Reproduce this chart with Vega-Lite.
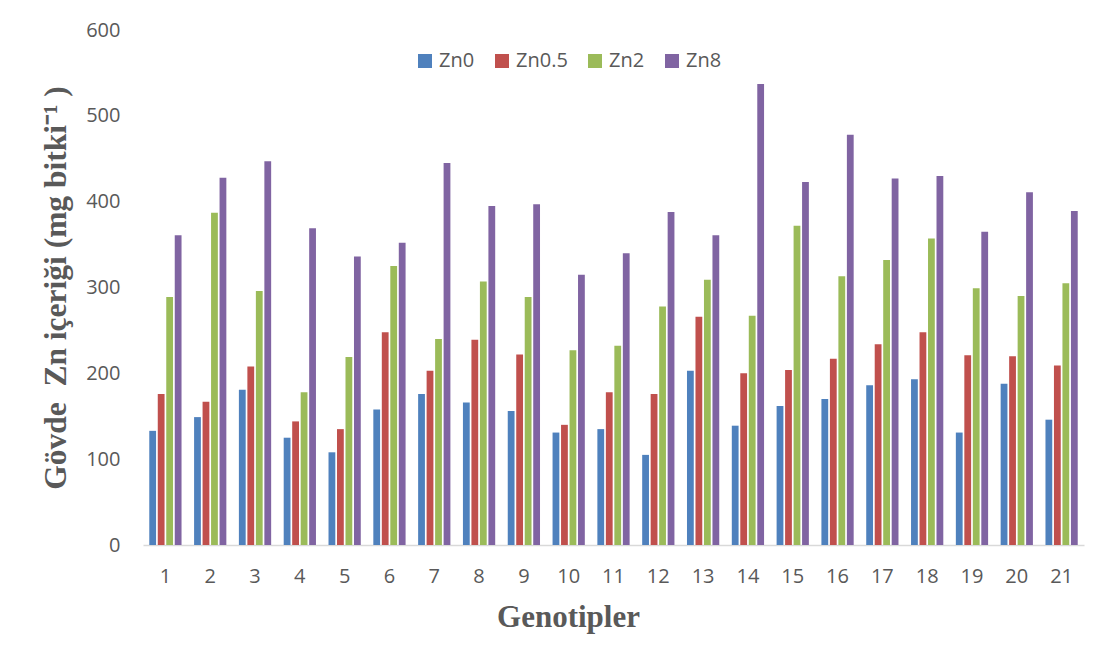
{
  "$schema": "https://vega.github.io/schema/vega-lite/v6.json",
  "width": 941,
  "height": 515,
  "autosize": {"type": "none"},
  "padding": {"left": 143, "top": 30, "right": 31, "bottom": 121},
  "background": "white",
  "config": {"view": {"stroke": null}},
  "data": {
    "values": [
      {"g": 1, "s": "Zn0", "v": 133}, {"g": 1, "s": "Zn0.5", "v": 176}, {"g": 1, "s": "Zn2", "v": 289}, {"g": 1, "s": "Zn8", "v": 361},
      {"g": 2, "s": "Zn0", "v": 149}, {"g": 2, "s": "Zn0.5", "v": 167}, {"g": 2, "s": "Zn2", "v": 387}, {"g": 2, "s": "Zn8", "v": 428},
      {"g": 3, "s": "Zn0", "v": 181}, {"g": 3, "s": "Zn0.5", "v": 208}, {"g": 3, "s": "Zn2", "v": 296}, {"g": 3, "s": "Zn8", "v": 447},
      {"g": 4, "s": "Zn0", "v": 125}, {"g": 4, "s": "Zn0.5", "v": 144}, {"g": 4, "s": "Zn2", "v": 178}, {"g": 4, "s": "Zn8", "v": 369},
      {"g": 5, "s": "Zn0", "v": 108}, {"g": 5, "s": "Zn0.5", "v": 135}, {"g": 5, "s": "Zn2", "v": 219}, {"g": 5, "s": "Zn8", "v": 336},
      {"g": 6, "s": "Zn0", "v": 158}, {"g": 6, "s": "Zn0.5", "v": 248}, {"g": 6, "s": "Zn2", "v": 325}, {"g": 6, "s": "Zn8", "v": 352},
      {"g": 7, "s": "Zn0", "v": 176}, {"g": 7, "s": "Zn0.5", "v": 203}, {"g": 7, "s": "Zn2", "v": 240}, {"g": 7, "s": "Zn8", "v": 445},
      {"g": 8, "s": "Zn0", "v": 166}, {"g": 8, "s": "Zn0.5", "v": 239}, {"g": 8, "s": "Zn2", "v": 307}, {"g": 8, "s": "Zn8", "v": 395},
      {"g": 9, "s": "Zn0", "v": 156}, {"g": 9, "s": "Zn0.5", "v": 222}, {"g": 9, "s": "Zn2", "v": 289}, {"g": 9, "s": "Zn8", "v": 397},
      {"g": 10, "s": "Zn0", "v": 131}, {"g": 10, "s": "Zn0.5", "v": 140}, {"g": 10, "s": "Zn2", "v": 227}, {"g": 10, "s": "Zn8", "v": 315},
      {"g": 11, "s": "Zn0", "v": 135}, {"g": 11, "s": "Zn0.5", "v": 178}, {"g": 11, "s": "Zn2", "v": 232}, {"g": 11, "s": "Zn8", "v": 340},
      {"g": 12, "s": "Zn0", "v": 105}, {"g": 12, "s": "Zn0.5", "v": 176}, {"g": 12, "s": "Zn2", "v": 278}, {"g": 12, "s": "Zn8", "v": 388},
      {"g": 13, "s": "Zn0", "v": 203}, {"g": 13, "s": "Zn0.5", "v": 266}, {"g": 13, "s": "Zn2", "v": 309}, {"g": 13, "s": "Zn8", "v": 361},
      {"g": 14, "s": "Zn0", "v": 139}, {"g": 14, "s": "Zn0.5", "v": 200}, {"g": 14, "s": "Zn2", "v": 267}, {"g": 14, "s": "Zn8", "v": 537},
      {"g": 15, "s": "Zn0", "v": 162}, {"g": 15, "s": "Zn0.5", "v": 204}, {"g": 15, "s": "Zn2", "v": 372}, {"g": 15, "s": "Zn8", "v": 423},
      {"g": 16, "s": "Zn0", "v": 170}, {"g": 16, "s": "Zn0.5", "v": 217}, {"g": 16, "s": "Zn2", "v": 313}, {"g": 16, "s": "Zn8", "v": 478},
      {"g": 17, "s": "Zn0", "v": 186}, {"g": 17, "s": "Zn0.5", "v": 234}, {"g": 17, "s": "Zn2", "v": 332}, {"g": 17, "s": "Zn8", "v": 427},
      {"g": 18, "s": "Zn0", "v": 193}, {"g": 18, "s": "Zn0.5", "v": 248}, {"g": 18, "s": "Zn2", "v": 357}, {"g": 18, "s": "Zn8", "v": 430},
      {"g": 19, "s": "Zn0", "v": 131}, {"g": 19, "s": "Zn0.5", "v": 221}, {"g": 19, "s": "Zn2", "v": 299}, {"g": 19, "s": "Zn8", "v": 365},
      {"g": 20, "s": "Zn0", "v": 188}, {"g": 20, "s": "Zn0.5", "v": 220}, {"g": 20, "s": "Zn2", "v": 290}, {"g": 20, "s": "Zn8", "v": 411},
      {"g": 21, "s": "Zn0", "v": 146}, {"g": 21, "s": "Zn0.5", "v": 209}, {"g": 21, "s": "Zn2", "v": 305}, {"g": 21, "s": "Zn8", "v": 389}
    ]
  },
  "mark": {"type": "bar"},
  "encoding": {
    "x": {
      "field": "g",
      "type": "ordinal",
      "scale": {"paddingInner": 0.28, "paddingOuter": 0.14},
      "axis": {
        "title": "Genotipler",
        "titleFont": "Liberation Serif",
        "titleFontSize": 31,
        "titleFontWeight": "bold",
        "titleColor": "#595959",
        "titleX": 425,
        "titlePadding": 16,
        "labelFont": "Open Sans",
        "labelFontSize": 20,
        "labelColor": "#595959",
        "labelAngle": 0,
        "labelPadding": 21,
        "ticks": false,
        "domainColor": "#D9D9D9",
        "domainWidth": 1.5,
        "grid": false
      }
    },
    "xOffset": {
      "field": "s",
      "type": "nominal",
      "sort": ["Zn0", "Zn0.5", "Zn2", "Zn8"],
      "scale": {"paddingInner": 0.2}
    },
    "y": {
      "field": "v",
      "type": "quantitative",
      "scale": {"domain": [0, 600]},
      "axis": {
        "title": "Gövde\u00a0 Zn içeriği (mg bitki⁻¹ )",
        "titleFont": "Liberation Serif",
        "titleFontSize": 31.5,
        "titleFontWeight": "bold",
        "titleColor": "#595959",
        "titlePadding": 13,
        "values": [0, 100, 200, 300, 400, 500, 600],
        "labelFont": "Open Sans",
        "labelFontSize": 20,
        "labelColor": "#595959",
        "labelPadding": 23,
        "ticks": false,
        "domain": false,
        "grid": false
      }
    },
    "color": {
      "field": "s",
      "type": "nominal",
      "sort": ["Zn0", "Zn0.5", "Zn2", "Zn8"],
      "scale": {
        "domain": ["Zn0", "Zn0.5", "Zn2", "Zn8"],
        "range": ["#4F81BD", "#C0504D", "#9BBB59", "#8064A2"]
      },
      "legend": {
        "title": null,
        "orient": "none",
        "legendX": 272,
        "legendY": 21,
        "direction": "horizontal",
        "symbolType": "square",
        "symbolSize": 196,
        "symbolStrokeWidth": 0,
        "labelFont": "Open Sans",
        "labelFontSize": 20,
        "labelColor": "#595959",
        "labelOffset": 4,
        "columnPadding": 17,
        "padding": 0
      }
    }
  }
}
